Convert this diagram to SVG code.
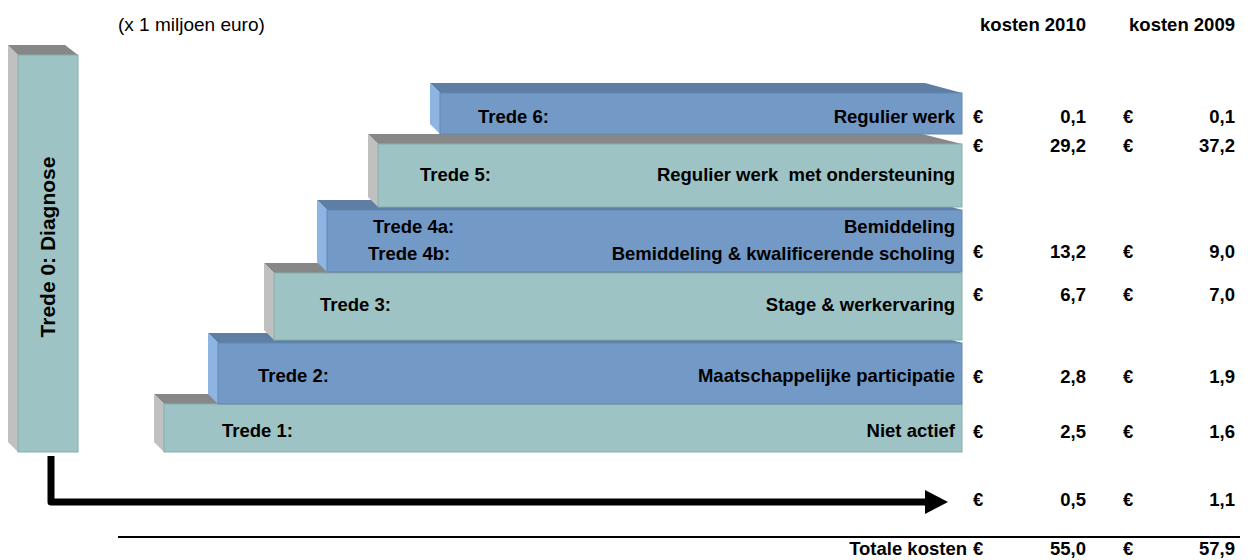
<svg xmlns="http://www.w3.org/2000/svg" width="1248" height="560" viewBox="0 0 1248 560">
<defs>
<style>
text{font-family:"Liberation Sans",Arial,sans-serif;font-size:18.5px;fill:#000;font-weight:bold}
.reg{font-weight:normal;font-size:19px}
.end{text-anchor:end}
.diag{font-size:21px;text-anchor:middle}
.tealF{fill:#9DC3C4}
.tealS{fill:#C0C0C0}
.tealT{fill:#878787}
.blueF{fill:#7399C6}
.blueS{fill:#8DB4E3}
.blueT{fill:#5E7EA3}
.edgeT{stroke:#86AEAE;stroke-width:1}
.edgeB{stroke:#6287B4;stroke-width:1}
.conn{fill:none;stroke:#000;stroke-width:7;stroke-linejoin:round}
</style>
<marker id="ah" markerUnits="userSpaceOnUse" viewBox="0 0 23 24" markerWidth="23" markerHeight="24" refX="0" refY="12" orient="auto">
<path d="M0,0 L23,12 L0,24 Z" fill="#000"/>
</marker>
</defs>
<rect width="1248" height="560" fill="#fff"/>

<text class="reg" x="118" y="31">(x 1 miljoen euro)</text>
<text class="end" x="1086" y="31">kosten 2010</text>
<text class="end" x="1235" y="31">kosten 2009</text>

<g id="trede0">
<polygon class="tealS" points="8,45 18,55 18,452 8,442"/>
<polygon class="tealT" points="8,45 65,45 78,55 18,55"/>
<rect class="tealF edgeT" x="18" y="55" width="60" height="397"/>
<text class="diag" transform="translate(55,247) rotate(-90)">Trede 0: Diagnose</text>
</g>

<g id="trede1">
<polygon class="tealT" points="154,394 928,394 962,404 164,404"/>
<polygon class="tealS" points="154,394 164,404 164,452 154,442"/>
<rect class="tealF edgeT" x="164" y="404" width="798" height="48"/>
<text x="222" y="437">Trede 1:</text>
<text class="end" x="955" y="437">Niet actief</text>
</g>

<g id="trede2">
<polygon class="blueT" points="208,333 928,333 962,343 218,343"/>
<polygon class="blueS" points="208,333 218,343 218,404 208,394"/>
<rect class="blueF edgeB" x="218" y="343" width="744" height="61"/>
<text x="258" y="382">Trede 2:</text>
<text class="end" x="955" y="382">Maatschappelijke participatie</text>
</g>

<g id="trede3">
<polygon class="tealT" points="264,263 928,263 962,273 274,273"/>
<polygon class="tealS" points="264,263 274,273 274,340 264,330"/>
<rect class="tealF edgeT" x="274" y="273" width="688" height="67"/>
<text x="320" y="311">Trede 3:</text>
<text class="end" x="955" y="311">Stage &amp; werkervaring</text>
</g>

<g id="trede4">
<polygon class="blueT" points="317,200 928,200 962,210 327,210"/>
<polygon class="blueS" points="317,200 327,210 327,272 317,262"/>
<rect class="blueF edgeB" x="327" y="210" width="635" height="62"/>
<text x="373" y="233">Trede 4a:</text>
<text x="368" y="260">Trede 4b:</text>
<text class="end" x="955" y="233">Bemiddeling</text>
<text class="end" x="955" y="260">Bemiddeling &amp; kwalificerende scholing</text>
</g>

<g id="trede5">
<polygon class="tealT" points="368,134 922,134 962,144 378,144"/>
<polygon class="tealS" points="368,134 378,144 378,207 368,197"/>
<rect class="tealF edgeT" x="378" y="144" width="584" height="63"/>
<text x="420" y="181">Trede 5:</text>
<text class="end" x="955" y="181" xml:space="preserve">Regulier werk  met ondersteuning</text>
</g>

<g id="trede6">
<polygon class="blueT" points="430,83 925,83 962,93 440,93"/>
<polygon class="blueS" points="430,83 440,93 440,134 430,124"/>
<rect class="blueF edgeB" x="440" y="93" width="522" height="41"/>
<text x="478" y="123">Trede 6:</text>
<text class="end" x="955" y="123">Regulier werk</text>
</g>

<g id="connectors">
<path class="conn" d="M51,456 V502 H925" marker-end="url(#ah)"/>
</g>

<g id="costs">
<text x="973" y="123">€</text><text class="end" x="1086" y="123">0,1</text>
<text x="1123" y="123">€</text><text class="end" x="1235" y="123">0,1</text>
<text x="973" y="152">€</text><text class="end" x="1086" y="152">29,2</text>
<text x="1123" y="152">€</text><text class="end" x="1235" y="152">37,2</text>
<text x="973" y="258">€</text><text class="end" x="1086" y="258">13,2</text>
<text x="1123" y="258">€</text><text class="end" x="1235" y="258">9,0</text>
<text x="973" y="301">€</text><text class="end" x="1086" y="301">6,7</text>
<text x="1123" y="301">€</text><text class="end" x="1235" y="301">7,0</text>
<text x="973" y="383">€</text><text class="end" x="1086" y="383">2,8</text>
<text x="1123" y="383">€</text><text class="end" x="1235" y="383">1,9</text>
<text x="973" y="438">€</text><text class="end" x="1086" y="438">2,5</text>
<text x="1123" y="438">€</text><text class="end" x="1235" y="438">1,6</text>
<text x="973" y="506">€</text><text class="end" x="1086" y="506">0,5</text>
<text x="1123" y="506">€</text><text class="end" x="1235" y="506">1,1</text>
<line x1="118" y1="537" x2="1240" y2="537" stroke="#000" stroke-width="2"/>
<text class="end" x="967" y="555">Totale kosten</text>
<text x="973" y="555">€</text><text class="end" x="1086" y="555">55,0</text>
<text x="1123" y="555">€</text><text class="end" x="1235" y="555">57,9</text>
</g>
</svg>
